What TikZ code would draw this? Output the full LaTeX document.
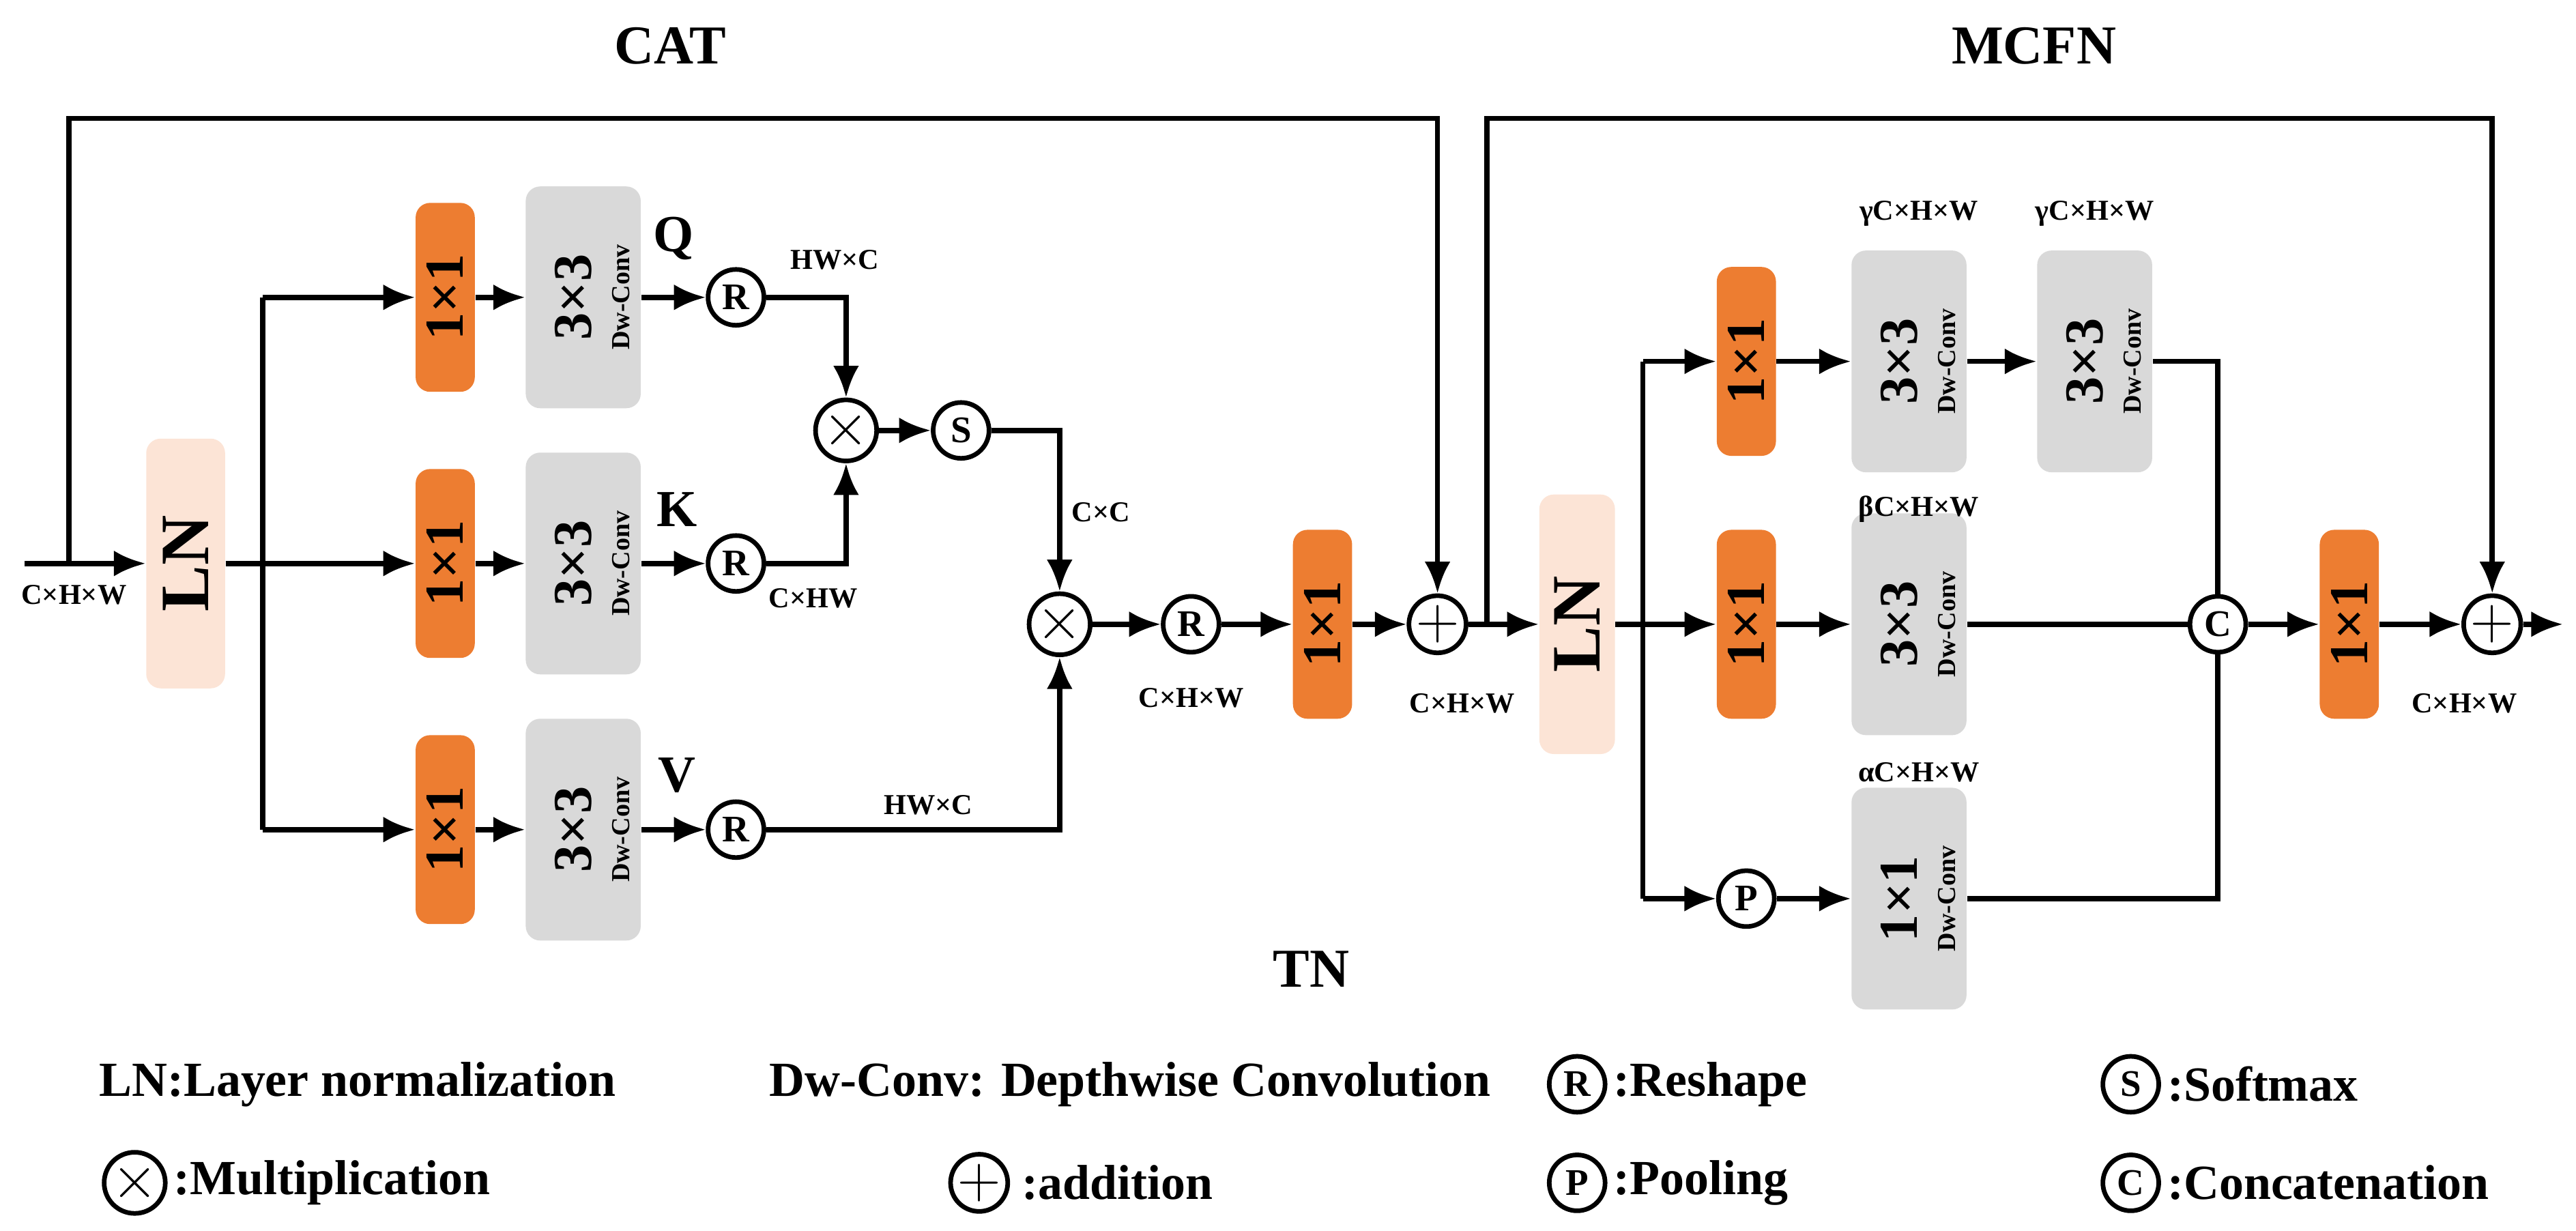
\documentclass[tikz,border=0pt]{standalone}
\usepackage{fontspec}
\setmainfont{Liberation Serif}
\usepackage{xcolor}
\usetikzlibrary{arrows.meta, positioning}
\definecolor{convorange}{HTML}{ED7D31}
\definecolor{convgray}{HTML}{D9D9D9}
\definecolor{lnpeach}{HTML}{FCE4D6}
\tikzset{>={Latex[length=11pt,width=9pt]}}
\tikzset{
  line/.style={line width=1.8pt},
  arr/.style={line width=1.8pt, ->},
  onebox/.style={fill=convorange, rounded corners=5pt, minimum width=36*0.02cm, minimum height=115*0.02cm, inner sep=0pt},
  dwbox/.style={fill=convgray, rounded corners=5pt, minimum width=70*0.02cm, minimum height=135*0.02cm, inner sep=0pt},
  lnbox/.style={fill=lnpeach, rounded corners=5pt, minimum width=48*0.02cm, minimum height=152*0.02cm, inner sep=0pt},
  op/.style={circle, draw, line width=1.6pt, fill=white, minimum size=34*0.02cm, inner sep=0pt, font=\bfseries\fontsize{13}{13}\selectfont},
  big/.style={font=\bfseries\fontsize{19}{19}\selectfont, rotate=90},
  dw/.style={font=\bfseries\fontsize{9}{9}\selectfont, rotate=90},
  dim/.style={font=\bfseries\fontsize{10}{10}\selectfont},
  leg/.style={font=\bfseries\fontsize{17}{17}\selectfont, anchor=west, inner sep=0pt},
  title/.style={font=\bfseries\fontsize{19}{19}\selectfont},
}
\newcommand{\opx}{\fontsize{20}{20}\selectfont$\times$}
\newcommand{\opp}{\fontsize{22}{22}\selectfont$+$}
\begin{document}
\begin{tikzpicture}[x=0.02cm, y=-0.02cm]
    \useasboundingbox (0,0) rectangle (1568,749);

    % Titles
    \node[title] (tcat) at (408,28) {CAT};
    \node[title] (tmcfn) at (1238,28) {MCFN};
    \node[title] (ttn) at (798,590) {TN};

    % ---------------- CAT ----------------
    \coordinate (in) at (15,343);
    \node[lnbox] (ln1) at (113,343) {};
    \node[font=\bfseries\fontsize{24}{24}\selectfont, rotate=90] (ln1t) at (113,343) {LN};
    \node[dim] (din) at (45,362) {C×H×W};

    % 1x1 convs
    \node[onebox] (oq) at (271,181) {};
    \node[onebox] (ok) at (271,343) {};
    \node[onebox] (ov) at (271,505) {};
    \foreach \n in {oq,ok,ov} \node[big] at (\n) {1×1};

    % Dw-Conv
    \node[dwbox] (gq) at (355,181) {};
    \node[dwbox] (gk) at (355,343) {};
    \node[dwbox] (gv) at (355,505) {};
    \foreach \n in {gq,gk,gv} {
      \node[big] at ([xshift=-6*0.02cm]\n) {3×3};
      \node[dw] at ([xshift=23*0.02cm]\n) {Dw-Conv};
    }
    \node[font=\bfseries\fontsize{18}{18}\selectfont] (lq) at (410,145) {Q};
    \node[font=\bfseries\fontsize{18}{18}\selectfont] (lk) at (412,310) {K};
    \node[font=\bfseries\fontsize{18}{18}\selectfont] (lv) at (412,472) {V};

    % Reshape
    \node[op] (rq) at (448,181) {R};
    \node[op] (rk) at (448,343) {R};
    \node[op] (rv) at (448,505) {R};

    % Attention
    \node[op] (m1) at (515,262) {\opx};
    \node[op] (sm) at (585,262) {S};
    \node[op] (m2) at (645,380) {\opx};
    \node[op] (ro) at (725,380) {R};
    \node[onebox] (op1) at (805,380) {};
    \node[big] at (op1) {1×1};
    \node[op] (a1) at (875,380) {\opp};

    \node[dim] (d1) at (508,158) {HW×C};
    \node[dim] (d2) at (495,364) {C×HW};
    \node[dim] (d3) at (670,312) {C×C};
    \node[dim] (d4) at (565,490) {HW×C};
    \node[dim] (d5) at (725,425) {C×H×W};
    \node[dim] (d6) at (890,428) {C×H×W};

    % Lines
    \coordinate (br1) at (160,343);
    \draw[arr] (in) -- (ln1);
    \draw[line] (ln1) -- (br1);
    \draw[arr] (br1) -- (ok);
    \draw[line] (160,181) -- (160,505);
    \draw[arr] (160,181) -- (oq);
    \draw[arr] (160,505) -- (ov);
    \foreach \a/\b in {oq/gq,ok/gk,ov/gv,gq/rq,gk/rk,gv/rv} \draw[arr] (\a) -- (\b);
    \draw[arr] (rq) -| (m1);
    \draw[arr] (rk) -| (m1);
    \draw[arr] (m1) -- (sm);
    \draw[arr] (sm) -| (m2);
    \draw[arr] (rv) -| (m2);
    \draw[arr] (m2) -- (ro);
    \draw[arr] (ro) -- (op1);
    \draw[arr] (op1) -- (a1);
    \draw[arr] (42,343) -- (42,72) -| (a1);

    % ---------------- MCFN ----------------
    \node[lnbox, minimum height=158*0.02cm, minimum width=46*0.02cm] (ln2) at (960,380) {};
    \node[font=\bfseries\fontsize{24}{24}\selectfont, rotate=90] (ln2t) at (960,380) {LN};
    \draw[arr] (a1) -- (ln2);
    \node[op] (a2) at (1517,380) {\opp};
    \draw[arr] (905,380) -- (905,72) -| (a2);

    \node[onebox] (o1) at (1063,220) {};
    \node[onebox] (o2) at (1063,380) {};
    \foreach \n in {o1,o2} \node[big] at (\n) {1×1};
    \node[op] (pp) at (1063,547) {P};

    \node[dwbox] (g1) at (1162,220) {};
    \node[dwbox] (g2) at (1275,220) {};
    \node[dwbox] (g3) at (1162,380) {};
    \node[dwbox] (g4) at (1162,547) {};
    \foreach \n in {g1,g2,g3} {
      \node[big] at ([xshift=-6*0.02cm]\n) {3×3};
      \node[dw] at ([xshift=23*0.02cm]\n) {Dw-Conv};
    }
    \node[big] at ([xshift=-6*0.02cm]g4) {1×1};
    \node[dw] at ([xshift=23*0.02cm]g4) {Dw-Conv};

    \node[dim] (e1) at (1168,130) {γC×H×W};
    \node[dim] (e2) at (1275,130) {γC×H×W};
    \node[dim] (e3) at (1168,310) {βC×H×W};
    \node[dim] (e4) at (1168,470) {αC×H×W};

    \node[op] (cc) at (1350,380) {C};
    \node[onebox] (o3) at (1430,380) {};
    \node[big] at (o3) {1×1};
    \node[dim] (e5) at (1500,428) {C×H×W};
    \coordinate (out) at (1560,380);

    \coordinate (br2) at (1000,380);
    \draw[line] (ln2) -- (br2);
    \draw[line] (1000,220) -- (1000,547);
    \draw[arr] (1000,220) -- (o1);
    \draw[arr] (br2) -- (o2);
    \draw[arr] (1000,547) -- (pp);
    \foreach \a/\b in {o1/g1,g1/g2,o2/g3,pp/g4} \draw[arr] (\a) -- (\b);
    \draw[line] (g2) -| (cc);
    \draw[line] (g3) -- (cc);
    \draw[line] (g4) -| (cc);
    \draw[arr] (cc) -- (o3);
    \draw[arr] (o3) -- (a2);
    \draw[arr] (a2) -- (out);

    % ---------------- Legend ----------------
    \node[leg] (l1) at (60,660) {LN:Layer normalization};
    \node[leg] (l2) at (468,660) {Dw-Conv: Depthwise Convolution};
    \node[op] (lr) at (960,660) {R};
    \node[leg, right=2pt of lr] (l3) {:Reshape};
    \node[op] (ls) at (1297,660) {S};
    \node[leg, right=2pt of ls] (l4) {:Softmax};
    \node[op] (lm) at (82,720) {\opx};
    \node[leg, right=2pt of lm] (l5) {:Multiplication};
    \node[op] (la) at (596,720) {\opp};
    \node[leg, right=4pt of la] (l6) {:addition};
    \node[op] (lp) at (960,720) {P};
    \node[leg, right=2pt of lp] (l7) {:Pooling};
    \node[op] (lc) at (1297,720) {C};
    \node[leg, right=2pt of lc] (l8) {:Concatenation};
\end{tikzpicture}
\end{document}
